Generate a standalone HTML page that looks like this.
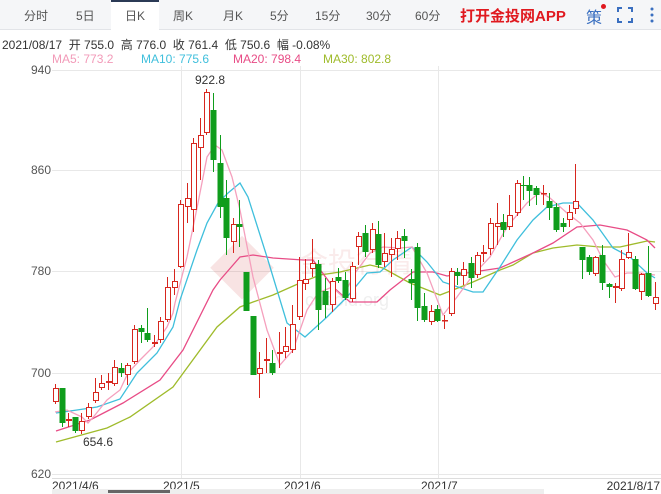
<!DOCTYPE html>
<html><head><meta charset="utf-8"><style>
body{margin:0;width:661px;height:494px;overflow:hidden;background:#fff;font-family:"Liberation Sans","Noto Sans CJK SC",sans-serif;position:relative}
.bar{position:absolute;left:0;top:0;width:661px;height:29px;background:#f5f6f8;border-bottom:1px solid #e2e4e8}
.t{position:absolute;top:7px;font-size:12px;color:#555}
.sel{position:absolute;left:111px;top:0;width:48px;height:30px;background:#fff;border-top:2px solid #2b3a55;box-sizing:border-box}
</style></head><body>
<div class="bar"></div><div class="sel"></div>
<span class="t" style="left:24px">分时</span>
<span class="t" style="left:76px">5日</span>
<span class="t" style="left:125px">日K</span>
<span class="t" style="left:173px">周K</span>
<span class="t" style="left:223px">月K</span>
<span class="t" style="left:270px">5分</span>
<span class="t" style="left:315px">15分</span>
<span class="t" style="left:366px">30分</span>
<span class="t" style="left:415px">60分</span>
<span style="position:absolute;left:460px;top:5px;font-size:15px;font-weight:bold;color:#e0191f">打开金投网APP</span>
<span style="position:absolute;left:586px;top:4px;font-size:16px;color:#3a6fc0">策</span>
<span style="position:absolute;left:601px;top:4px;width:5px;height:5px;border-radius:50%;background:#e0191f"></span>
<svg style="position:absolute;left:617px;top:7px" width="16" height="16"><path d="M1 5V1H5M11 1H15V5M15 11V15H11M5 15H1V11" stroke="#3a6fc0" stroke-width="2" fill="none"/></svg>
<svg style="position:absolute;left:649px;top:6px" width="6" height="18"><circle cx="3" cy="3" r="1.5" fill="#3a6fc0"/><circle cx="3" cy="9" r="1.5" fill="#3a6fc0"/><circle cx="3" cy="15" r="1.5" fill="#3a6fc0"/></svg>
<div style="position:absolute;left:2px;top:36px;font-size:12px;color:#333">2021/08/17&nbsp; 开 755.0&nbsp; 高 776.0&nbsp; 收 761.4&nbsp; 低 750.6&nbsp; 幅 -0.08%</div>
<div style="position:absolute;top:52px;font-size:12px;left:52px;color:#f29ab8">MA5: 773.2</div>
<div style="position:absolute;top:52px;font-size:12px;left:141px;color:#3fbfdc">MA10: 775.6</div>
<div style="position:absolute;top:52px;font-size:12px;left:233px;color:#e84c86">MA20: 798.4</div>
<div style="position:absolute;top:52px;font-size:12px;left:323px;color:#9fbb2b">MA30: 802.8</div>
<svg id="c" style="position:absolute;left:0;top:0" width="661" height="494"></svg>
<script>
var s='';
function L(x1,y1,x2,y2,c,w){s+='<line x1="'+x1+'" y1="'+y1+'" x2="'+x2+'" y2="'+y2+'" stroke="'+c+'" stroke-width="'+(w||1)+'"/>';}
function T(x,y,t,a,c,f){s+='<text x="'+x+'" y="'+y+'" font-size="'+(f||12)+'" fill="'+(c||'#333')+'" text-anchor="'+(a||'start')+'">'+t+'</text>';}
var gy=[70,170,271,373,474],lb=['940','860','780','700','620'];
for(var i=0;i<5;i++){L(52,gy[i]+.5,661,gy[i]+.5,'#e8e8e8');T(51,gy[i]+4,lb[i],'end','#555');}
[181,300,438].forEach(function(x){L(x+.5,66,x+.5,478,'#e8e8e8');});
L(52,478.5,661,478.5,'#ddd');
T(52,490,'2021/4/6');T(163,490,'2021/5');T(284,490,'2021/6');T(421,490,'2021/7');T(660,490,'2021/8/17','end');
s+='<rect x="52" y="489" width="492" height="5" fill="#eee"/><rect x="108" y="490" width="62" height="3" fill="#666"/>';
// watermark
s+='<g opacity="0.13"><rect x="220" y="245" width="45" height="45" fill="#d0312d" transform="rotate(45 242 267)"/></g>';
T(300,272,'金投行情','start','rgba(210,60,60,0.1)',28);T(305,306,'cngold.org','start','rgba(120,120,120,0.12)',18);
var ma5=[[55,412],[67,410],[82,417],[88,423],[95,415],[107,400],[120,390],[128,373],[140,360],[153,347],[167,327],[173,313],[175,303],[187,257],[198,203],[207,157],[215,145],[222,150],[232,177],[240,210],[253,277],[267,330],[280,365],[293,350],[307,310],[318,293],[332,287],[343,297],[355,273],[370,253],[383,247],[400,248],[412,247],[427,273],[443,315],[457,297],[473,275],[490,257],[507,227],[527,203],[540,192],[550,198],[567,213],[580,223],[593,240],[603,260],[615,277],[627,273],[640,273],[655,275]];
var ma10=[[56,413],[77,410],[97,407],[120,399],[137,373],[157,353],[173,327],[180,300],[197,250],[207,223],[218,203],[228,193],[240,183],[248,197],[267,257],[287,323],[305,337],[327,317],[347,297],[367,273],[380,272],[393,260],[412,247],[427,262],[443,282],[473,292],[483,292],[500,267],[517,240],[533,220],[547,207],[563,203],[577,203],[593,220],[613,248],[630,257],[647,273],[655,278]];
var ma20=[[56,431],[90,420],[123,403],[160,380],[183,350],[213,290],[220,280],[240,257],[253,255],[273,258],[303,260],[313,260],[333,287],[350,302],[377,302],[390,290],[413,272],[433,272],[447,276],[473,272],[500,268],[533,253],[553,243],[577,227],[600,225],[627,230],[647,240],[655,248]];
var ma30=[[56,442],[107,428],[130,417],[173,387],[217,327],[240,307],[253,302],[273,295],[300,283],[320,275],[340,272],[370,265],[383,268],[410,283],[440,295],[453,290],[473,282],[500,270],[513,265],[533,253],[553,248],[577,245],[600,247],[620,247],[647,241],[655,242]];
function P(a,c){s+='<polyline fill="none" stroke="'+c+'" stroke-width="1.3" points="'+a.map(function(p){return p.join(',')}).join(' ')+'"/>';}
P(ma30,'#9fbb2b');P(ma20,'#e84c86');P(ma10,'#3fbfdc');P(ma5,'#f5a0bd');
// candles: [x, top, bottom, wickTop, wickBot, r/g]
var cs=[
[55,388,402,384,404,'r'],[62,388,423,388,427,'g'],[68,419,421,413,427,'r'],[75,417,431,417,433,'g'],[81,421,431,413,434,'r'],[88,407,417,403,419,'r'],[95,392,401,378,403,'r'],[101,383,388,375,390,'r'],[108,381,383,373,390,'r'],[114,367,384,360,386,'r'],[121,368,373,363,377,'g'],[127,365,375,363,385,'r'],[134,329,362,325,364,'r'],[141,328,332,325,343,'g'],[147,333,340,308,342,'g'],[154,342,344,335,347,'r'],[160,321,340,317,343,'r'],[167,287,320,277,322,'r'],[174,281,288,269,295,'r'],
[180,204,267,200,268,'r'],[187,198,207,183,223,'r'],[193,143,210,138,232,'r'],[200,135,148,118,180,'r'],[206,92,133,89,135,'r'],[213,110,160,93,172,'g'],[220,163,207,135,218,'g'],[226,198,238,180,255,'g'],[233,224,242,218,253,'r'],[239,224,227,200,247,'g'],
[246,272,311,272,311,'g'],[253,316,375,316,375,'g'],[259,368,374,352,398,'r'],[266,359,361,338,373,'r'],[272,363,373,350,375,'g'],[279,352,354,332,368,'r'],[285,346,352,327,358,'r'],[292,324,350,305,353,'r'],[299,280,317,257,320,'r'],[305,279,284,259,290,'r'],
[312,263,269,239,277,'r'],[318,264,310,260,330,'g'],[325,291,305,278,318,'g'],[332,281,305,278,312,'r'],[338,277,281,268,283,'g'],[345,280,298,272,300,'g'],[352,266,299,262,302,'r'],[358,236,247,232,265,'r'],[365,233,252,225,257,'g'],[372,229,250,223,253,'r'],[378,234,265,221,268,'g'],[384,253,262,233,267,'r'],[391,249,255,238,277,'r'],[397,238,249,231,260,'r'],[404,236,241,229,258,'g'],[411,279,283,269,300,'g'],
[417,247,308,243,321,'g'],[424,306,320,293,322,'g'],[431,311,322,305,325,'r'],[437,309,321,305,322,'g'],[444,320,321,315,329,'r'],[451,271,314,268,316,'r'],[457,272,276,268,285,'g'],[463,269,276,262,285,'r'],[471,263,278,257,288,'g'],[477,255,275,252,278,'r'],[483,252,254,245,262,'r'],[490,223,249,218,255,'r'],[497,223,227,203,245,'r'],[503,222,230,214,237,'g'],[509,215,227,195,230,'r'],[517,183,213,180,216,'r'],[523,185,186,176,200,'g'],[529,185,191,177,206,'g'],[536,188,195,186,205,'g'],[543,193,194,185,205,'r'],[549,201,208,193,220,'g'],[556,207,230,203,232,'g'],[563,223,227,218,232,'g'],[569,212,220,205,227,'r'],[575,201,209,164,214,'r'],
[582,247,260,247,279,'g'],[589,257,272,255,275,'g'],[595,257,274,256,276,'r'],[602,255,283,245,290,'g'],[609,284,287,283,298,'g'],[615,286,288,283,303,'r'],[621,259,289,250,291,'r'],[628,252,258,233,259,'r'],[635,259,289,256,290,'g'],[641,274,292,273,300,'r'],[648,273,296,246,297,'g'],[655,297,304,282,310,'r']];
cs.forEach(function(c){var col=c[5]=='r'?'#d7261e':'#0f9d1c';
L(c[0]+.5,c[3],c[0]+.5,c[4],col);
var h=Math.max(c[2]-c[1],1);
if(c[5]=='r')s+='<rect x="'+(c[0]-2)+'.5" y="'+(c[1]+.5)+'" width="5" height="'+Math.max(h-1,0.5)+'" fill="#fff" stroke="'+col+'" stroke-width="1"/>';
else s+='<rect x="'+(c[0]-2.5)+'" y="'+c[1]+'" width="6" height="'+h+'" fill="'+col+'"/>';});
T(195,84,'922.8','start','#333');T(83,446,'654.6','start','#333');
document.getElementById('c').innerHTML=s;
</script>
</body></html>
